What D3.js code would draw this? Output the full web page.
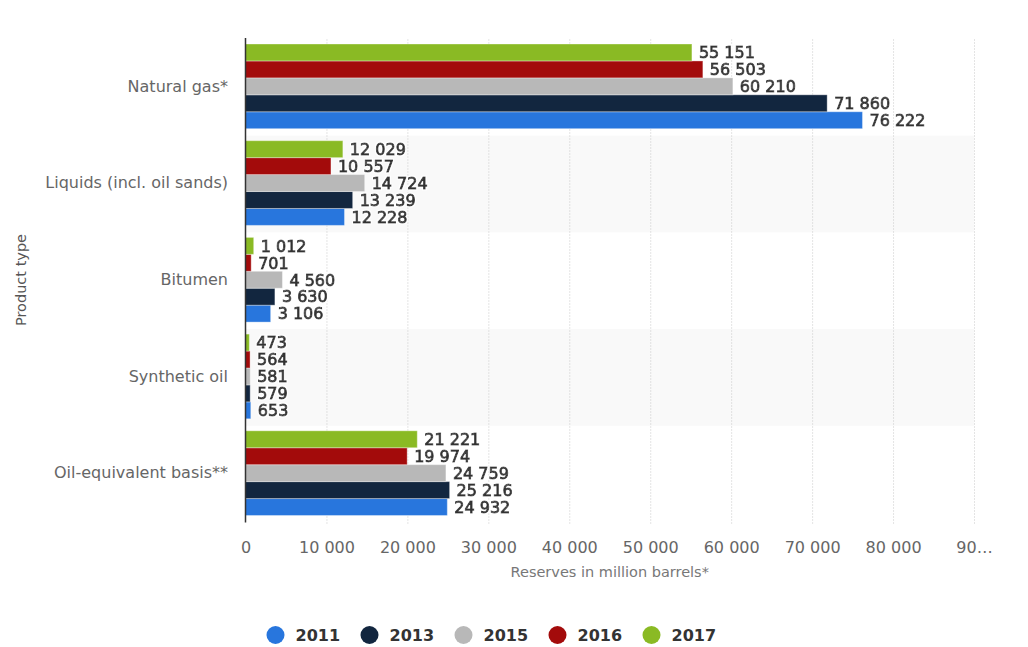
<!DOCTYPE html>
<html lang="en">
<head>
    <meta charset="UTF-8">
    <title>Reserves by product type</title>
    <script src="https://d3js.org/d3.v7.min.js"></script>
    <style>
        body { margin: 0; background: #fff; }
        svg { display: block; font-family: "DejaVu Sans", Verdana, sans-serif; }
    </style>
</head>
<body>
    <div id="my_dataviz"></div>
</body>
</html>

<script>
    var width = 1028, height = 647;

    // categories (top to bottom)
    var categories = ['Natural gas*', 'Liquids (incl. oil sands)', 'Bitumen', 'Synthetic oil', 'Oil-equivalent basis**'];
    // series in legend order
    var years = ['2011', '2013', '2015', '2016', '2017'];
    var colors = ['#2876dd', '#12263f', '#b8b8b8', '#a30b0b', '#8aba24'];

    // values per year, same order as categories
    var v2011 = [76222, 12228, 3106, 653, 24932];
    var v2013 = [71860, 13239, 3630, 579, 25216];
    var v2015 = [60210, 14724, 4560, 581, 24759];
    var v2016 = [56503, 10557, 701, 564, 19974];
    var v2017 = [55151, 12029, 1012, 473, 21221];
    var series = [v2011, v2013, v2015, v2016, v2017];

    var tickValues = [0, 10000, 20000, 30000, 40000, 50000, 60000, 70000, 80000, 90000];
    var xTitle = 'Reserves in million barrels*';
    var yTitle = 'Product type';

    var fmt = d3.formatLocale({ decimal: ".", thousands: " ", grouping: [3], currency: ["", ""] }).format(",");

    var plot = { left: 245.5, right: 974, top: 39, bottom: 522.5 };

    var x = d3.scaleLinear().domain([0, 90000]).range([plot.left, plot.right]);
    var y = d3.scaleBand().domain(categories).range([plot.top, plot.bottom]);
    // bars inside a group: 2017 on top, 2011 at bottom
    var yInner = d3.scaleBand().domain(years.slice().reverse())
        .range([5, y.bandwidth() - 7]);

    var svg = d3.select("#my_dataviz").append("svg")
        .attr("width", width).attr("height", height);

    // white halo around the data labels
    var halo = svg.append("defs").append("filter").attr("id", "halo")
        .attr("x", "-10%").attr("y", "-20%").attr("width", "120%").attr("height", "140%");
    halo.append("feMorphology").attr("in", "SourceAlpha").attr("operator", "dilate")
        .attr("radius", 1.4).attr("result", "thick");
    halo.append("feFlood").attr("flood-color", "#fff");
    halo.append("feComposite").attr("in2", "thick").attr("operator", "in").attr("result", "outline");
    var merge = halo.append("feMerge");
    merge.append("feMergeNode").attr("in", "outline");
    merge.append("feMergeNode").attr("in", "SourceGraphic");

    // alternate band shading
    svg.append("g").selectAll("rect")
        .data(categories.filter(function(d, i) { return i % 2 == 1; }))
        .enter().append("rect")
        .attr("x", plot.left).attr("width", plot.right - plot.left)
        .attr("y", function(d) { return y(d); })
        .attr("height", y.bandwidth())
        .attr("fill", "#f9f9f9");

    // gridlines + tick labels
    var xAxis = d3.axisBottom(x)
        .tickValues(tickValues)
        .tickSize(-(plot.bottom - plot.top + 1))
        .tickPadding(18)
        .tickFormat(function(d, i) { return i == tickValues.length - 1 ? String(d / 1000) + '…' : fmt(d); });

    var gx = svg.append("g")
        .attr("transform", "translate(0," + (plot.bottom + 1) + ")")
        .call(xAxis);
    gx.select(".domain").remove();
    gx.selectAll(".tick line")
        .attr("stroke", "#c8c8c8").attr("stroke-dasharray", "1,2");
    gx.selectAll(".tick").filter(function(d) { return d == 0; }).select("line").remove();
    gx.selectAll(".tick text")
        .attr("fill", "#666").style("font-size", "16px")
        .style("font-family", '"DejaVu Sans", Verdana, sans-serif');

    // bars
    var rows = [];
    categories.forEach(function(c, ci) {
        years.forEach(function(yr, si) {
            rows.push({ cat: c, year: yr, value: series[si][ci], color: colors[si] });
        });
    });

    var bars = svg.append("g");
    bars.selectAll("rect")
        .data(rows)
        .enter().append("rect")
        .attr("x", x(0))
        .attr("y", function(d) { return y(d.cat) + yInner(d.year); })
        .attr("width", function(d) { return x(d.value) - x(0); })
        .attr("height", yInner.bandwidth())
        .attr("fill", function(d) { return d.color; })
        .attr("stroke", "rgba(255,255,255,0.35)")
        .attr("stroke-width", 1);

    // data labels
    bars.selectAll("text")
        .data(rows)
        .enter().append("text")
        .attr("x", function(d) { return x(d.value) + 7; })
        .attr("y", function(d) { return y(d.cat) + yInner(d.year) + yInner.bandwidth() / 2; })
        .attr("dy", "0.36em")
        .text(function(d) { return fmt(d.value); })
        .attr("fill", "#333")
        .style("font-size", "16px")
        .style("stroke", "#333").style("stroke-width", "0.9px")
        .attr("filter", "url(#halo)");

    // y axis line and category labels
    svg.append("line")
        .attr("x1", plot.left).attr("x2", plot.left)
        .attr("y1", plot.top - 1).attr("y2", plot.bottom)
        .attr("stroke", "#333").attr("stroke-width", 1.5);

    svg.append("g").selectAll("text")
        .data(categories)
        .enter().append("text")
        .attr("x", 228)
        .attr("y", function(d) { return y(d) + y.bandwidth() / 2 - 1.5; })
        .attr("dy", "0.36em")
        .attr("text-anchor", "end")
        .attr("fill", "#666")
        .style("font-size", "16px")
        .text(function(d) { return d; });

    // axis titles
    svg.append("text")
        .attr("x", (plot.left + plot.right) / 2)
        .attr("y", 577)
        .attr("text-anchor", "middle")
        .attr("fill", "#777")
        .style("font-size", "14.5px")
        .text(xTitle);

    svg.append("text")
        .attr("transform", "translate(26,280) rotate(-90)")
        .attr("text-anchor", "middle")
        .attr("fill", "#555")
        .style("font-size", "14.5px")
        .text(yTitle);

    // legend
    var legend = svg.append("g").selectAll("g")
        .data(years)
        .enter().append("g")
        .attr("transform", function(d, i) { return "translate(" + (275.5 + i * 94) + ",635)"; });
    legend.append("circle")
        .attr("r", 9)
        .attr("fill", function(d, i) { return colors[i]; });
    legend.append("text")
        .attr("x", 20)
        .attr("dy", "0.36em")
        .attr("fill", "#333")
        .style("font-size", "16px")
        .style("font-weight", "bold")
        .text(function(d) { return d; });
</script>
